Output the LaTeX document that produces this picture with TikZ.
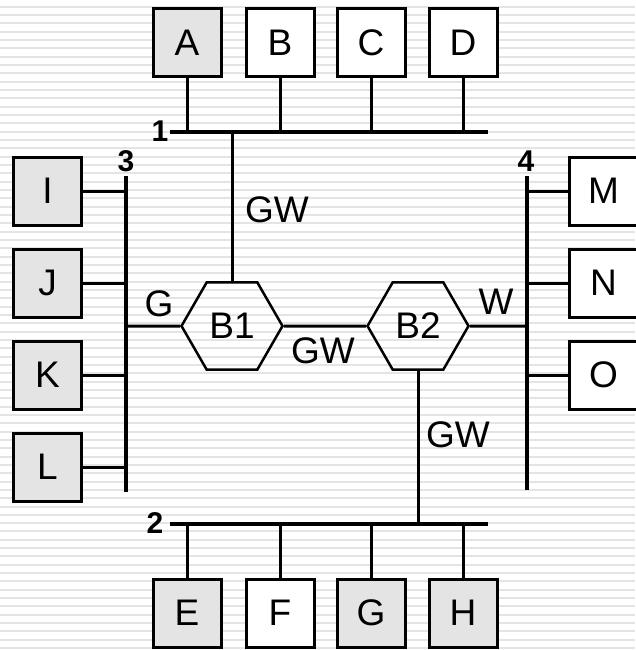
\documentclass[tikz,border=0pt]{standalone}
\usepackage{fontspec}
\setmainfont{Liberation Sans}
\usetikzlibrary{shapes.geometric}
\definecolor{lanInk}{HTML}{000000}
\definecolor{lanShade}{HTML}{E4E4E4}
\definecolor{lanStripe}{HTML}{E4E4E4}
\tikzset{
  lan diagram/.style={x=1pt, y=-1pt, font=\fontsize{37}{40}\selectfont,
    text=lanInk, draw=lanInk},
  lan box/.style={draw=lanInk, fill=white, line width=3pt,
    minimum size=68pt, inner sep=0pt},
  lan grey box/.style={lan box, fill=lanShade},
  lan hub/.style={draw=lanInk, regular polygon, regular polygon sides=6,
    minimum size=101pt, line width=2.5pt, inner sep=0pt},
  lan bus/.style={draw=lanInk, line width=4pt},
  lan stem/.style={draw=lanInk, line width=3pt},
  lan num/.style={font=\fontsize{30}{32}\selectfont\bfseries},
  lan stripe/.style={draw=lanStripe, line width=2pt}
}
\begin{document}
\begin{tikzpicture}[lan diagram]
\useasboundingbox (0,0) rectangle (635,650);
\fill[white] (0,0) rectangle (635,650);
% striped background
\foreach \y in {6.7,15.03,...,650}
  \draw[lan stripe] (0,\y) -- (635,\y);
% buses
\coordinate (bus1w) at (170,132);
\coordinate (bus1e) at (488,132);
\coordinate (bus2w) at (170,524);
\coordinate (bus2e) at (488,524);
\coordinate (bus3n) at (126,176);
\coordinate (bus3s) at (126,492);
\coordinate (bus4n) at (527,176);
\coordinate (bus4s) at (527,490);
\draw[lan bus] (bus1w) -- (bus1e);
\draw[lan bus] (bus2w) -- (bus2e);
\draw[lan bus] (bus3n) -- (bus3s);
\draw[lan bus] (bus4n) -- (bus4s);
\node[lan num] (n1) at (160,131) {1};
\node[lan num] (n2) at (155,523) {2};
\node[lan num] (n3) at (126,161) {3};
\node[lan num] (n4) at (526,161) {4};
% stations on bus 1
\node[lan grey box] (A) at (187,43) {A};
\node[lan box] (B) at (280,43) {B};
\node[lan box] (C) at (371,43) {C};
\node[lan box] (D) at (463,43) {D};
\draw[lan stem] (A) -- (A |- bus1w);
\draw[lan stem] (B) -- (B |- bus1w);
\draw[lan stem] (C) -- (C |- bus1w);
\draw[lan stem] (D) -- (D |- bus1w);
% stations on bus 2
\node[lan grey box] (E) at (187,613) {E};
\node[lan box] (F) at (280,613) {F};
\node[lan grey box] (G) at (371,613) {G};
\node[lan grey box] (H) at (463,613) {H};
\draw[lan stem] (E) -- (E |- bus2w);
\draw[lan stem] (F) -- (F |- bus2w);
\draw[lan stem] (G) -- (G |- bus2w);
\draw[lan stem] (H) -- (H |- bus2w);
% stations on bus 3
\node[lan grey box] (I) at (47.5,191) {I};
\node[lan grey box] (J) at (47.5,283) {J};
\node[lan grey box] (K) at (47.5,375) {K};
\node[lan grey box] (L) at (47.5,467) {L};
\draw[lan stem] (I) -- (I -| bus3n);
\draw[lan stem] (J) -- (J -| bus3n);
\draw[lan stem] (K) -- (K -| bus3n);
\draw[lan stem] (L) -- (L -| bus3n);
% stations on bus 4
\node[lan box] (M) at (603.5,191) {M};
\node[lan box] (N) at (603.5,283) {N};
\node[lan box] (O) at (603.5,375) {O};
\draw[lan stem] (M) -- (M -| bus4n);
\draw[lan stem] (N) -- (N -| bus4n);
\draw[lan stem] (O) -- (O -| bus4n);
% bridges
\node[lan hub] (B1) at (232,326) {B1};
\node[lan hub] (B2) at (418,326) {B2};
\draw[lan stem] (B1) -- (B1 |- bus1w);
\draw[lan stem] (B2) -- (B2 |- bus2w);
\draw[lan stem] (B1) -- (B1 -| bus3n);
\draw[lan stem] (B2) -- (B2 -| bus4n);
\draw[lan stem] (B1) -- (B2);
\node (gwTop) at (277,210) {GW};
\node (gwMid) at (323,351) {GW};
\node (gwBot) at (458,435) {GW};
\node (gLink) at (159,304) {G};
\node (wLink) at (496,302) {W};
\end{tikzpicture}
\end{document}
